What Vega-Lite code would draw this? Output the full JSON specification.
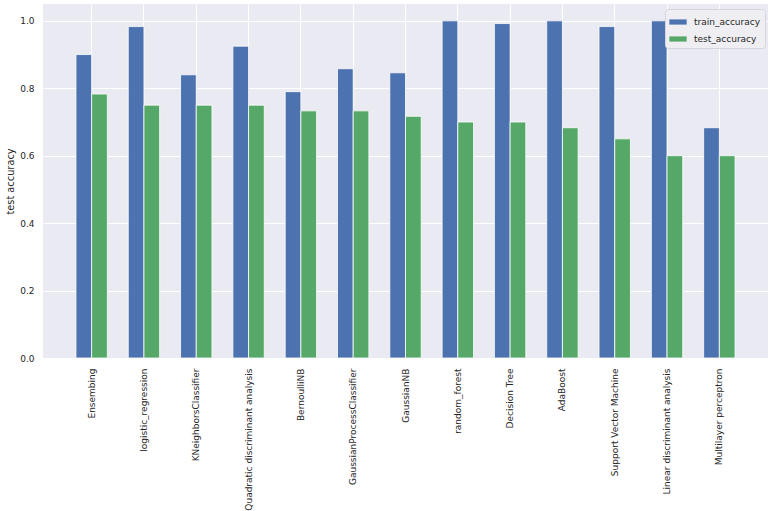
{
  "$schema": "https://vega.github.io/schema/vega-lite/v6.json",
  "autosize": {"type": "none"},
  "padding": {"left": 43, "top": 4, "right": 15, "bottom": 153},
  "width": 725,
  "height": 354,
  "background": "white",
  "config": {
    "view": {"fill": "#EAEAF2", "stroke": null},
    "font": "DejaVu Sans",
    "axis": {
      "domain": false,
      "ticks": false,
      "gridColor": "white",
      "gridWidth": 1,
      "labelColor": "#262626",
      "titleColor": "#262626",
      "labelFont": "DejaVu Sans",
      "titleFont": "DejaVu Sans",
      "labelFontSize": 9,
      "titleFontSize": 9.8,
      "titleFontWeight": "normal"
    }
  },
  "data": {
    "values": [
      {"model": "Ensembing", "metric": "train_accuracy", "value": 0.9},
      {"model": "Ensembing", "metric": "test_accuracy", "value": 0.783},
      {"model": "logistic_regression", "metric": "train_accuracy", "value": 0.983},
      {"model": "logistic_regression", "metric": "test_accuracy", "value": 0.75},
      {"model": "KNeighborsClassifier", "metric": "train_accuracy", "value": 0.84},
      {"model": "KNeighborsClassifier", "metric": "test_accuracy", "value": 0.75},
      {"model": "Quadratic discriminant analysis", "metric": "train_accuracy", "value": 0.925},
      {"model": "Quadratic discriminant analysis", "metric": "test_accuracy", "value": 0.75},
      {"model": "BernoulliNB", "metric": "train_accuracy", "value": 0.79},
      {"model": "BernoulliNB", "metric": "test_accuracy", "value": 0.733},
      {"model": "GaussianProcessClassifier", "metric": "train_accuracy", "value": 0.858},
      {"model": "GaussianProcessClassifier", "metric": "test_accuracy", "value": 0.733},
      {"model": "GaussianNB", "metric": "train_accuracy", "value": 0.846},
      {"model": "GaussianNB", "metric": "test_accuracy", "value": 0.717},
      {"model": "random_forest", "metric": "train_accuracy", "value": 1.0},
      {"model": "random_forest", "metric": "test_accuracy", "value": 0.7},
      {"model": "Decision Tree", "metric": "train_accuracy", "value": 0.992},
      {"model": "Decision Tree", "metric": "test_accuracy", "value": 0.7},
      {"model": "AdaBoost", "metric": "train_accuracy", "value": 1.0},
      {"model": "AdaBoost", "metric": "test_accuracy", "value": 0.683},
      {"model": "Support Vector Machine", "metric": "train_accuracy", "value": 0.983},
      {"model": "Support Vector Machine", "metric": "test_accuracy", "value": 0.65},
      {"model": "Linear discriminant analysis", "metric": "train_accuracy", "value": 1.0},
      {"model": "Linear discriminant analysis", "metric": "test_accuracy", "value": 0.6},
      {"model": "Multilayer perceptron", "metric": "train_accuracy", "value": 0.683},
      {"model": "Multilayer perceptron", "metric": "test_accuracy", "value": 0.6}
    ]
  },
  "mark": {"type": "bar", "stroke": "white", "strokeWidth": 0.8},
  "encoding": {
    "x": {
      "field": "model",
      "type": "nominal",
      "sort": null,
      "scale": {"paddingInner": 0.4, "paddingOuter": 0.63},
      "axis": {
        "title": null,
        "labelAngle": -90,
        "labelPadding": 10,
        "labelLimit": 0,
        "bandPosition": 0.5,
        "grid": true
      }
    },
    "xOffset": {
      "field": "metric",
      "type": "nominal",
      "sort": ["train_accuracy", "test_accuracy"],
      "scale": {"paddingInner": 0, "paddingOuter": 0}
    },
    "y": {
      "field": "value",
      "type": "quantitative",
      "scale": {"domain": [0, 1.05], "nice": false, "zero": true},
      "axis": {
        "title": "test accuracy",
        "values": [0, 0.2, 0.4, 0.6, 0.8, 1.0],
        "format": ".1f",
        "labelPadding": 9,
        "titlePadding": 4,
        "grid": true
      }
    },
    "color": {
      "field": "metric",
      "type": "nominal",
      "sort": ["train_accuracy", "test_accuracy"],
      "scale": {
        "domain": ["train_accuracy", "test_accuracy"],
        "range": ["#4C72B0", "#55A868"]
      },
      "legend": {
        "title": null,
        "orient": "none",
        "legendX": 622,
        "legendY": 5,
        "fillColor": "#EEEEF3",
        "strokeColor": "#D5D5DD",
        "cornerRadius": 3,
        "padding": 4,
        "rowPadding": 3,
        "labelFontSize": 9,
        "labelOffset": 7,
        "labelColor": "#262626",
        "labelFont": "DejaVu Sans",
        "symbolType": "M-1,-0.3H1V0.3H-1Z",
        "symbolSize": 300,
        "symbolStrokeWidth": 0,
        "symbolOpacity": 1
      }
    }
  }
}
